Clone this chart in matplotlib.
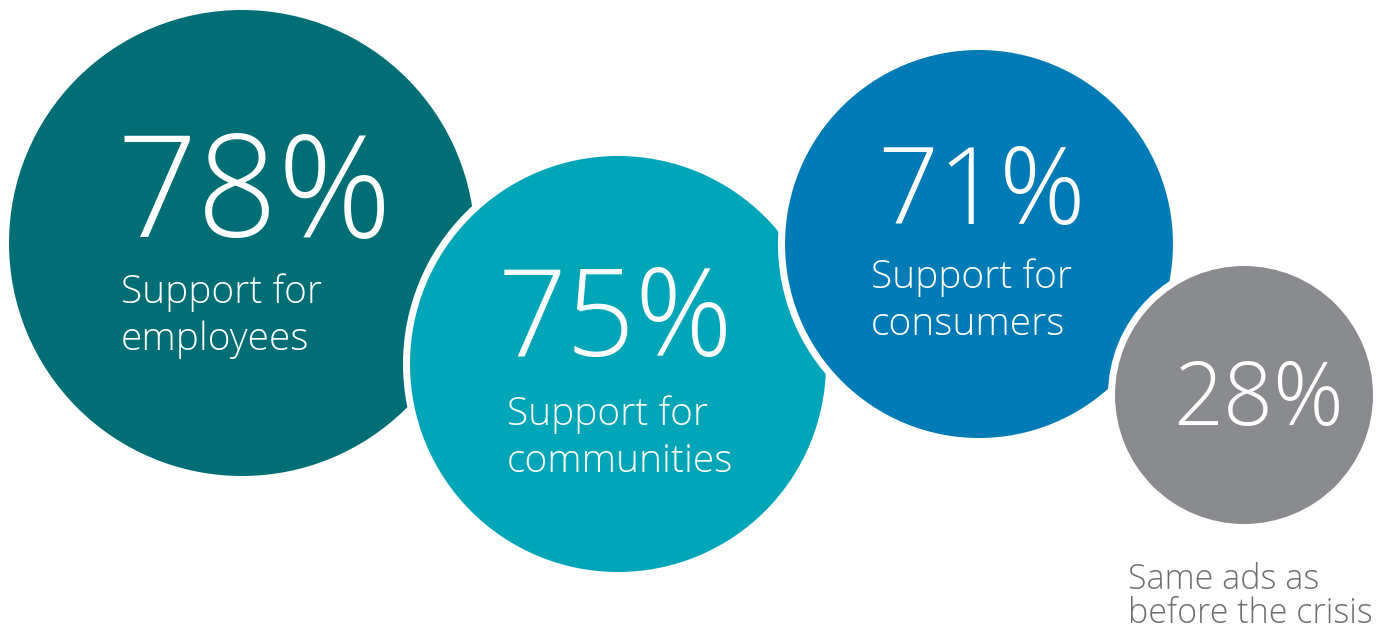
import matplotlib.pyplot as plt
from matplotlib import font_manager
from matplotlib.patches import Circle

# survey shares and their captions
values = [78, 75, 71, 28]
captions = [["Support for", "employees"],
            ["Support for", "communities"],
            ["Support for", "consumers"],
            ["Same ads as", "before the crisis"]]

# bubble layout, in pixel coordinates of the canvas
centers = [(242, 243), (618, 364), (979, 244), (1244, 395)]
radii = [233, 208, 194, 129]
colors = ["#006E74", "#00A5B8", "#007BB6", "#898B8E"]
ring = 7  # white gap between overlapping bubbles, px

# text placement: number (x, baseline y, size), caption (x, first baseline, pitch)
num_pos = [(116, 237), (498, 356), (877, 224), (1173, 425)]
num_size = [102, 87, 77, 63]
cap_pos = [(121, 303), (507, 425), (871, 288), (1128, 589)]
cap_pitch = [47, 47, 47, 34]
cap_size = [28, 28, 28, 24.5]
cap_color = ["white", "white", "white", "#6D6F72"]

light_path = next((f.fname for f in font_manager.fontManager.ttflist
                   if f.fname.endswith("OpenSans-Light.ttf")), None)


def light(size):
    if light_path:
        return font_manager.FontProperties(fname=light_path, size=size)
    return font_manager.FontProperties(family="Open Sans", weight="light", size=size)


fig = plt.figure(figsize=(13.87, 6.38), dpi=100)
ax = fig.add_axes([0, 0, 1, 1])
ax.set_xlim(0, 1387)
ax.set_ylim(638, 0)
ax.set_aspect('equal')
ax.axis('off')

px_to_pt = 72 / fig.dpi

for i, v in enumerate(values):
    # the stroke is centred on the outline, so grow the patch by half of it
    ax.add_patch(Circle(centers[i], radii[i] + ring / 2, facecolor=colors[i],
                        edgecolor='white', linewidth=ring * px_to_pt, zorder=i + 1))
    ax.text(num_pos[i][0], num_pos[i][1], f"{v}%", color='white',
            fontproperties=light(num_size[i]), va='baseline',
            ha='left', zorder=10)
    x, y = cap_pos[i]
    for k, line in enumerate(captions[i]):
        ax.text(x, y + k * cap_pitch[i], line, color=cap_color[i],
                fontproperties=light(cap_size[i]), va='baseline', ha='left',
                zorder=10)

fig.savefig("out.png", dpi=100)
